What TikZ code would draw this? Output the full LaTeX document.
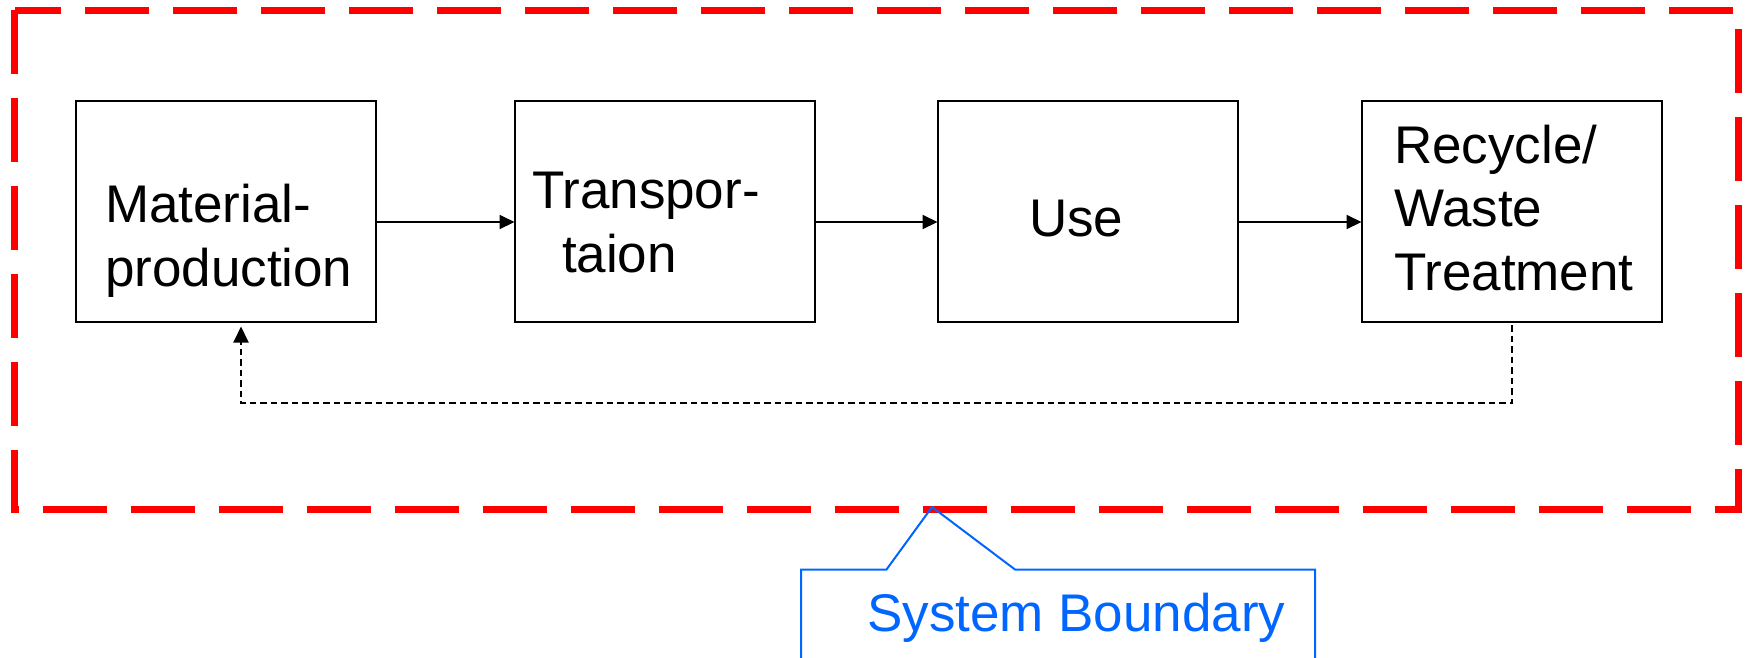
\documentclass[tikz,border=0pt]{standalone}
\usepackage{fontspec}
\setmainfont{Liberation Sans}
\usetikzlibrary{arrows.meta}
\definecolor{bndred}{RGB}{255,0,0}
\definecolor{callblue}{RGB}{0,102,255}
\begin{document}
\begin{tikzpicture}[x=1pt,y=-1pt,
  stagebox/.style={draw=black,line width=2pt,minimum width=300pt,minimum height=221pt,inner sep=0pt,outer sep=0pt},
  stagetext/.style={inner sep=0pt,outer sep=0pt,anchor=base west,align=left,font=\fontsize{53pt}{63.5pt}\selectfont},
  flow/.style={line width=2pt,-{Triangle[length=15pt,width=14pt]}},
  backflow/.style={line width=2pt,dash pattern=on 6.5pt off 4pt,-{Triangle[length=16pt,width=15pt]}},
  boundary/.style={draw=bndred,line width=7pt,dash pattern=on 64pt off 24pt,line join=miter,line cap=butt},
  callout/.style={draw=callblue,line width=2pt,line join=miter},
  calltext/.style={inner sep=0pt,anchor=base west,text=callblue,font=\fontsize{53pt}{63.5pt}\selectfont}]
\useasboundingbox (0,0) rectangle (1750,657);
\fill[white] (0,0) rectangle (1750,657);
% system boundary
\draw[boundary] (14.5,10) -- (14.5,509.5) -- (1738,509.5) -- (1738,10) -- cycle;
% stage boxes
\node[stagebox] (m) at (226,211.5) {};
\node[stagebox] (t) at (664.5,211.5) {};
\node[stagebox] (u) at (1087.5,211.5) {};
\node[stagebox] (r) at (1511.5,211.5) {};
% texts (base west = baseline of the last line)
\node[stagetext] (mt) at (105,286) {Material-\\production};
\node[stagetext] (tt) at (532,272) {Transpor-\\\hspace*{30pt}taion};
\node[stagetext] (ut) at (1029,236) {Use};
\node[stagetext] (rt) at (1394,290) {Recycle/\\Waste\\Treatment};
% flow arrows
\coordinate (fy) at (0,222);
\draw[flow] (m.east |- fy) -- (t.west |- fy);
\draw[flow] (t.east |- fy) -- (u.west |- fy);
\draw[flow] (u.east |- fy) -- (r.west |- fy);
% feedback
\coordinate (fb) at (0,403);
\coordinate (fx) at (241,0);
\draw[backflow,shorten <=3pt,shorten >=4.5pt] (r.south) -- (r.south |- fb) -- (fx |- fb) -- (fx |- m.south);
% callout
\node[calltext] (sb) at (867,631.5) {System Boundary};
\coordinate (tip) at (932,507);
\draw[callout] (801,670) -- (801,569.5) -- (886.5,569.5) -- (tip) -- (1015,569.5) -- (1315,569.5) -- (1315,670);
\end{tikzpicture}
\end{document}
